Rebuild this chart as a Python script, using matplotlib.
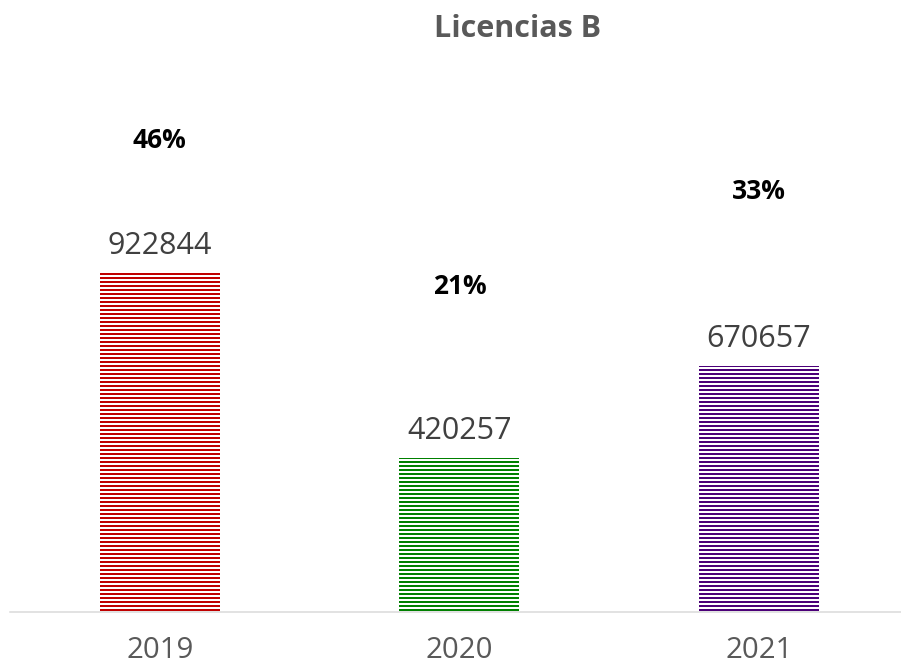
import numpy as np
import matplotlib.pyplot as plt

years = ["2019", "2020", "2021"]
licencias = [922844, 420257, 670657]
bar_colors = ["#C00000", "#008000", "#4B0078"]

# vertical offsets (px) of the percentage labels above each bar
pct_offsets_px = [125, 164, 167]

DPI = 96
px = 72 / DPI  # points per pixel

plt.rcParams['font.family'] = ['Open Sans', 'DejaVu Sans']
plt.rcParams['hatch.linewidth'] = 2 * px

fig = plt.figure(figsize=(901 / DPI, 668 / DPI), dpi=DPI)
ax = fig.add_axes([10 / 901, 56 / 668, 891 / 901, 512 / 668])

x = np.arange(len(years))
total = sum(licencias)
ax.bar(x, licencias, width=0.4, facecolor="white", edgecolor=bar_colors,
       linewidth=0, hatch="----")

for xi, v, off in zip(x, licencias, pct_offsets_px):
    ax.annotate(str(v), (xi, v), xytext=(0, 18.5 * px), textcoords="offset points",
                ha="center", va="baseline", fontsize=22.9, color="#404040")
    ax.annotate(f"{round(100 * v / total)}%", (xi, v), xytext=(0, off * px),
                textcoords="offset points", ha="center", va="baseline",
                fontsize=19.8, fontweight="bold", color="black")

ax.set_xlim(-0.5, 2.474)
ax.set_ylim(0, 512 / 339 * 922844)
ax.set_xticks(x)
ax.set_xticklabels(years, fontsize=22, color="#595959")
ax.tick_params(axis="x", length=0, pad=18)
ax.set_yticks([])
for s in ["top", "right", "left"]:
    ax.spines[s].set_visible(False)
ax.spines["bottom"].set_color("#D9D9D9")
ax.spines["bottom"].set_linewidth(1.5 * px)

fig.text(518 / 901, 1 - 37 / 668, "Licencias B", ha="center", va="baseline",
         fontsize=22.9, fontweight="bold", color="#595959")

fig.savefig("out.png", dpi=DPI)
